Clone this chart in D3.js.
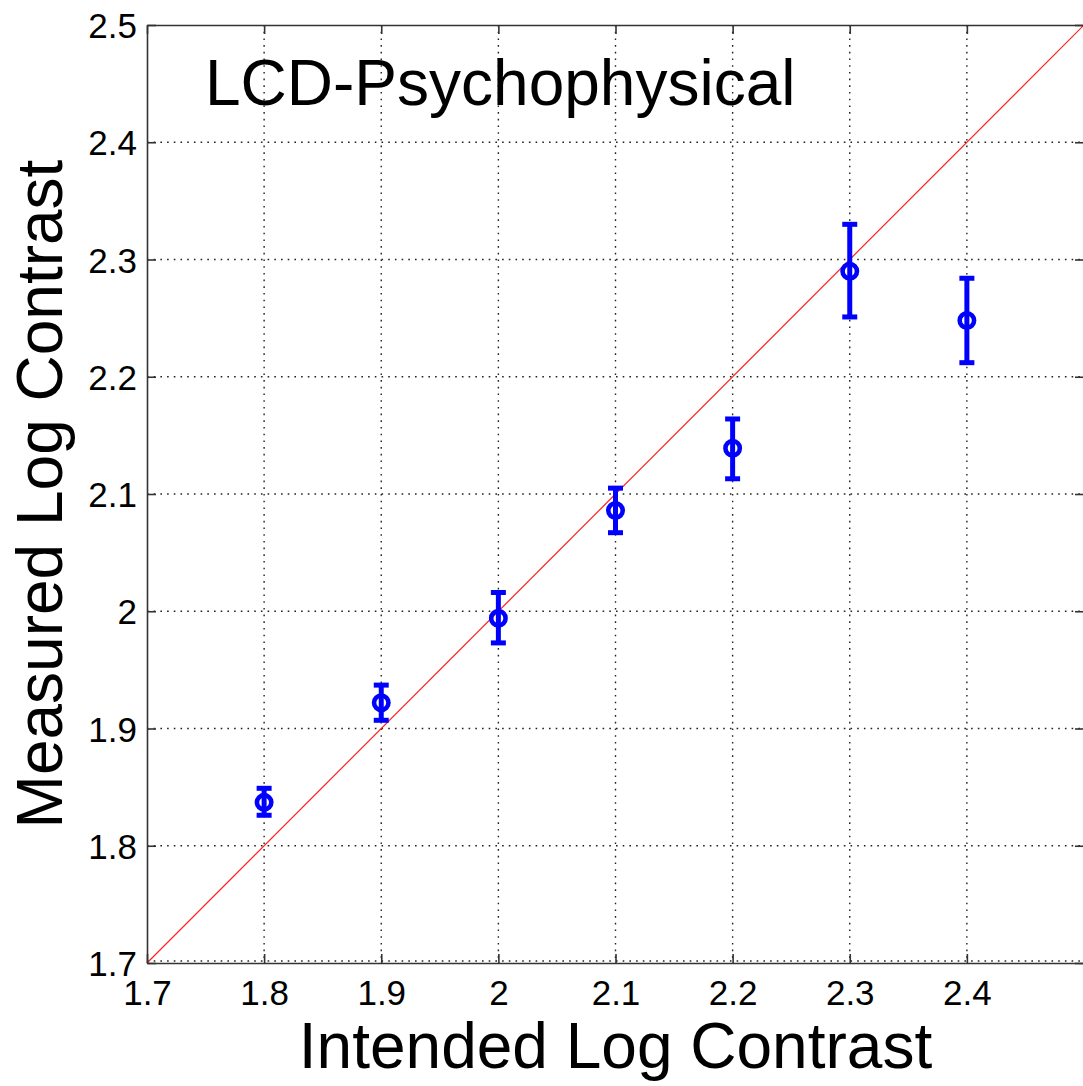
<!DOCTYPE html>
<html>
<head>
<meta charset="utf-8">
<script src="https://cdn.jsdelivr.net/npm/d3@7"></script>
<style>
  body { margin: 0; background: #fff; }
  svg { display: block; font-family: "Liberation Sans", Arial, sans-serif; }
</style>
</head>
<body>
<div id="chart"></div>
<script>
// intended vs measured log contrast
const intended = [1.8, 1.9, 2.0, 2.1, 2.2, 2.3, 2.4];
const measured = [1.837, 1.922, 1.994, 2.086, 2.139, 2.290, 2.248];
const errUpper = [1.849, 1.937, 2.016, 2.105, 2.164, 2.330, 2.284];
const errLower = [1.826, 1.907, 1.973, 2.067, 2.113, 2.251, 2.212];
const xTicks = [1.7, 1.8, 1.9, 2.0, 2.1, 2.2, 2.3, 2.4, 2.5];
const xTickLabels = ['1.7', '1.8', '1.9', '2', '2.1', '2.2', '2.3', '2.4', ''];
const yTicks = [1.7, 1.8, 1.9, 2.0, 2.1, 2.2, 2.3, 2.4, 2.5];
const yTickLabels = ['1.7', '1.8', '1.9', '2', '2.1', '2.2', '2.3', '2.4', '2.5'];
const domain = [1.7, 2.5];

const width = 1083, height = 1086;
const margin = { top: 25, right: -1, bottom: 123, left: 147 };

const svg = d3.select('#chart').append('svg')
  .attr('width', width)
  .attr('height', height);

const x = d3.scaleLinear().domain(domain).range([margin.left, width - margin.right]);
const y = d3.scaleLinear().domain(domain).range([height - margin.bottom, margin.top]);

const x0 = x.range()[0], x1 = x.range()[1];
const y0 = y.range()[0], y1 = y.range()[1];

// dotted grid
const grid = svg.append('g')
  .attr('stroke', '#222')
  .attr('stroke-width', 1.4)
  .attr('stroke-dasharray', '1.6,5.1');

grid.selectAll('.gx')
  .data(xTicks.slice(1, -1))
  .enter().append('line')
  .attr('x1', d => x(d)).attr('x2', d => x(d))
  .attr('y1', y1).attr('y2', y0);

grid.selectAll('.gy')
  .data(yTicks.slice(1, -1))
  .enter().append('line')
  .attr('y1', d => y(d)).attr('y2', d => y(d))
  .attr('x1', x0).attr('x2', x1);

// grid at the bottom edge shows as little ticks above the axis
grid.append('line')
  .attr('x1', x0).attr('x2', x1)
  .attr('y1', y0 - 2).attr('y2', y0 - 2);

// identity line
svg.append('line')
  .attr('x1', x(domain[0])).attr('y1', y(domain[0]))
  .attr('x2', x(domain[1])).attr('y2', y(domain[1]))
  .attr('stroke', '#ff2020')
  .attr('stroke-width', 1.2);

// axes with inward ticks (matlab box style)
const tickLen = 9;
const fmtX = d => xTickLabels[xTicks.indexOf(d)];
const fmtY = d => yTickLabels[yTicks.indexOf(d)];

const bottomAxis = svg.append('g')
  .attr('transform', `translate(0,${y0})`)
  .call(d3.axisBottom(x).tickValues(xTicks).tickFormat(fmtX).tickSizeInner(-tickLen).tickSizeOuter(0).tickPadding(17));

const topAxis = svg.append('g')
  .attr('transform', `translate(0,${y1})`)
  .call(d3.axisTop(x).tickValues(xTicks).tickFormat('').tickSizeInner(-tickLen).tickSizeOuter(0));

const leftAxis = svg.append('g')
  .attr('transform', `translate(${x0},0)`)
  .call(d3.axisLeft(y).tickValues(yTicks).tickFormat(fmtY).tickSizeInner(-tickLen).tickSizeOuter(0).tickPadding(10));

const rightAxis = svg.append('g')
  .attr('transform', `translate(${x1},0)`)
  .call(d3.axisRight(y).tickValues(yTicks).tickFormat('').tickSizeInner(-tickLen).tickSizeOuter(0));
rightAxis.select('.domain').remove();

[bottomAxis, topAxis, leftAxis, rightAxis].forEach(a => {
  a.select('.domain').attr('stroke', '#333').attr('stroke-width', 1.6);
  a.selectAll('.tick line').attr('stroke', '#333').attr('stroke-width', 1.6);
  a.selectAll('text')
    .attr('fill', '#000')
    .style('font-size', '35px')
    .style('font-family', '"Liberation Sans", Arial, sans-serif');
});
bottomAxis.selectAll('text').attr('dy', '0.71em');
leftAxis.selectAll('text').attr('dy', '0.36em');

// error bars
const pts = intended.map((d, i) => ({ x: d, y: measured[i], hi: errUpper[i], lo: errLower[i] }));
const blue = '#0000ff';
const capW = 7.5;

const bars = svg.append('g')
  .attr('stroke', blue)
  .attr('stroke-width', 5)
  .attr('fill', 'none');

bars.selectAll('.stem')
  .data(pts)
  .enter().append('line')
  .attr('x1', d => x(d.x)).attr('x2', d => x(d.x))
  .attr('y1', d => y(d.hi)).attr('y2', d => y(d.lo));

bars.selectAll('.capHi')
  .data(pts)
  .enter().append('line')
  .attr('x1', d => x(d.x) - capW).attr('x2', d => x(d.x) + capW)
  .attr('y1', d => y(d.hi)).attr('y2', d => y(d.hi));

bars.selectAll('.capLo')
  .data(pts)
  .enter().append('line')
  .attr('x1', d => x(d.x) - capW).attr('x2', d => x(d.x) + capW)
  .attr('y1', d => y(d.lo)).attr('y2', d => y(d.lo));

bars.selectAll('circle')
  .data(pts)
  .enter().append('circle')
  .attr('cx', d => x(d.x))
  .attr('cy', d => y(d.y))
  .attr('r', 7.2)
  .attr('stroke-width', 4.6);

// title inside the axes
svg.append('text')
  .attr('x', 205)
  .attr('y', 105)
  .style('font-size', '64px')
  .attr('fill', '#000')
  .text('LCD-Psychophysical');

// axis labels
svg.append('text')
  .attr('x', (x0 + x1) / 2)
  .attr('y', 1068)
  .attr('text-anchor', 'middle')
  .style('font-size', '64px')
  .attr('fill', '#000')
  .text('Intended Log Contrast');

svg.append('text')
  .attr('transform', `translate(62,${(y0 + y1) / 2}) rotate(-90)`)
  .attr('text-anchor', 'middle')
  .style('font-size', '64px')
  .attr('fill', '#000')
  .text('Measured Log Contrast');
</script>
</body>
</html>
